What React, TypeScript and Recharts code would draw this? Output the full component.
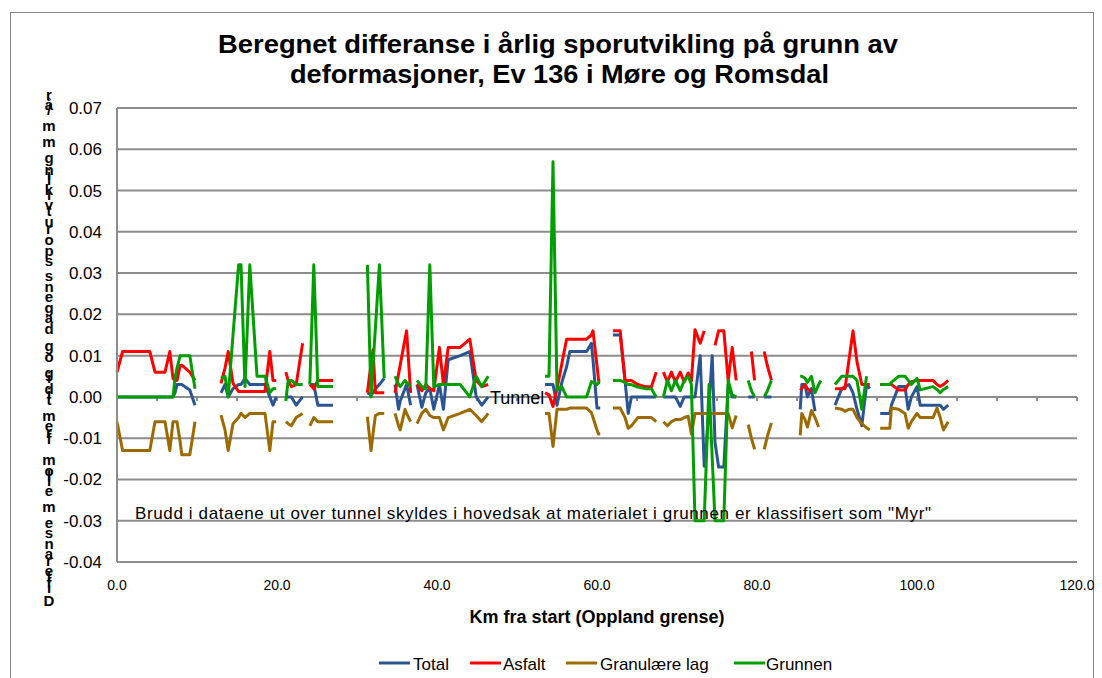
import { LineChart, Line, XAxis, YAxis, CartesianGrid, ReferenceLine } from 'recharts';

// km from start; each stretch ends with a row that only holds a km value (gap)
const km = [
  0, 0.7, 4.1, 4.75, 6.0, 6.6, 7.0, 7.25, 7.5, 7.9, 8.1, 9.1, 9.75, 11.5,
  13.0, 13.5, 13.9, 14.5, 15.2, 15.5, 16.0, 16.6, 17.5, 18.5, 19.1, 19.5, 19.9, 20.5,
  21.1, 21.4, 21.8, 22.4, 23.2, 23.65,
  24.1, 24.6, 25.1, 25.6, 27.0, 29.0,
  31.3, 31.75, 32.0, 32.3, 32.8, 33.4, 34.1,
  34.75, 35.2, 35.4, 36.0, 36.2, 36.7, 37.1,
  37.5, 38.1, 38.6, 39.1, 39.6, 40.3, 40.8, 41.4, 42.9, 44.1, 44.9, 45.6, 46.4, 50.0,
  53.5, 54.0, 54.5, 55.0, 55.6, 56.2, 56.6, 58.7, 59.3, 59.5, 60.0, 60.2, 60.4, 61.2,
  62.0, 62.9, 63.5, 63.9, 64.3, 65.1, 66.0, 66.8, 67.4, 67.85,
  68.3, 68.8, 69.3, 69.8, 70.4, 70.9, 71.4, 71.8, 72.25, 72.9, 73.4, 73.7, 74.0, 74.4, 74.75, 75.2, 75.85, 76.4, 76.9, 77.4, 78.3,
  78.9, 79.3, 79.7, 80.4,
  80.9, 81.3, 81.8, 83.5,
  85.4, 85.6, 86.0, 86.3, 86.8, 87.25, 87.7, 88.0, 89.0,
  89.75, 90.6, 91.0, 91.5, 92.0, 92.5, 93.1, 93.7, 94.1, 94.8,
  95.4, 96.6, 96.8, 97.7, 98.5, 98.9, 99.3, 100.0, 100.4, 102.0, 102.5, 102.9, 103.3, 103.9,
];

const total = [
  0, 0, 0, 0, 0, 0, 0, 0.001, 0.003, 0.003, 0.003, 0.0017, -0.002, null,
  0.001, 0.003, 0, 0.002, 0.003, 0.003, 0.0045, 0.003, 0.003, 0.003, 0, -0.002, 0, null,
  0, 0, 0, -0.002, 0, null,
  0.003, 0.003, -0.002, -0.002, -0.002, null,
  0.001, 0.0005, 0.001, 0.002, 0.003, 0.0045, null,
  0.003, -0.003, -0.001, 0.002, 0.003, -0.002, null,
  0.003, -0.0025, 0.001, 0.002, -0.003, 0.003, -0.003, 0.009, 0.010, 0.011, 0, -0.002, 0, null,
  0.003, 0.003, 0.003, -0.002, 0.0035, 0.0073, 0.011, 0.011, 0.013, 0.009, -0.0027, -0.0027, -0.0027, null,
  0.015, 0.015, 0.004, -0.004, 0, 0, 0, 0, 0, null,
  0, 0, 0, 0, -0.0023, 0, 0, 0, 0, 0.010, -0.0168, -0.0109, -0.0019, 0.010, -0.011, -0.017, -0.017, 0.003, 0, 0, null,
  0, 0, 0, null,
  0, 0, 0, null,
  -0.003, 0.003, 0.003, 0, 0.002, -0.0035, null, null, null,
  -0.002, 0.002, 0.0025, 0.003, 0.001, -0.003, -0.007, 0.003, 0.002, null,
  -0.004, -0.004, -0.002, 0.0025, 0.0025, -0.003, 0, 0.0025, -0.002, -0.002, -0.002, -0.002, -0.003, -0.002,
];

const asfalt = [
  0.006, 0.011, 0.011, 0.006, 0.006, 0.011, 0.0045, 0.004, 0.004, 0.0077, 0.0077, 0.006, 0.004, null,
  0.0033, 0.007, 0.011, 0.0033, 0.0013, 0.0013, 0.0013, 0.0013, 0.0013, 0.0013, 0.011, 0.004, 0.004, null,
  0.006, 0.004, 0.0025, 0.003, 0.013, null,
  0.003, 0.002, 0.004, 0.004, 0.004, null,
  0.001, 0.008, 0.0114, 0.001, 0.001, 0.001, null,
  0.001, 0.0056, 0.0077, 0.014, 0.016, 0.001, null,
  0.003, 0.0015, 0.003, 0.002, 0.0015, 0.012, 0.003, 0.012, 0.012, 0.014, 0.004, 0.0025, 0.003, null,
  0.001, 0.0005, -0.0023, 0.002, 0.008, 0.014, 0.014, 0.014, 0.015, 0.016, 0.0075, 0.004, 0.004, null,
  0.016, 0.016, 0.004, 0.004, 0.004, 0.003, 0.0025, 0.0024, 0.006, null,
  0.006, 0.0036, 0.006, 0.0036, 0.006, 0.0036, 0.0058, 0.0038, 0.0163, 0.013, 0.016, null, null, null, 0.0125, 0.016, 0.016, 0.004, 0.012, 0.004, null,
  null, 0.011, 0.004, null,
  0.011, 0.0075, 0.004, null,
  0.0016, 0.002, 0.003, 0.002, 0.0012, null, null, null, null,
  0.002, 0.002, 0.002, 0.009, 0.016, 0.0085, 0.003, 0.003, 0.003, null,
  0.003, 0.003, 0.003, 0.0017, 0.0017, 0.003, 0.0037, 0.004, 0.004, 0.004, 0.003, 0.0025, 0.003, 0.004,
];

const granulaere = [
  -0.006, -0.013, -0.013, -0.006, -0.006, -0.013, -0.006, -0.006, -0.006, -0.011, -0.014, -0.014, -0.006, null,
  -0.0044, -0.008, -0.013, -0.0065, -0.005, -0.004, -0.005, -0.004, -0.004, -0.004, -0.013, -0.006, -0.006, null,
  -0.006, -0.0065, -0.007, -0.005, -0.004, null,
  -0.007, -0.005, -0.006, -0.006, -0.006, null,
  -0.0048, -0.013, -0.009, -0.0045, -0.004, -0.004, null,
  -0.004, -0.007, -0.008, -0.003, -0.004, -0.006, null,
  -0.0065, -0.004, -0.003, -0.0045, -0.005, -0.005, -0.008, -0.005, -0.004, -0.003, -0.0045, -0.006, -0.004, null,
  -0.004, -0.004, -0.012, -0.003, -0.003, -0.003, -0.0027, -0.0027, -0.0038, -0.005, -0.008, -0.009, -0.009, null,
  -0.0027, -0.0027, -0.005, -0.0076, -0.007, -0.005, -0.005, -0.005, -0.006, null,
  -0.006, -0.007, -0.006, -0.0055, -0.0055, -0.005, -0.0047, -0.009, -0.004, -0.004, -0.004, -0.004, -0.004, -0.004, -0.004, -0.004, -0.004, -0.004, -0.0075, -0.0045, null,
  -0.0067, -0.010, -0.0127, null,
  -0.0127, -0.0095, -0.0063, null,
  -0.0093, -0.004, -0.0055, -0.0073, -0.0033, -0.005, -0.0073, null, null,
  -0.0027, -0.003, -0.0035, -0.003, -0.003, -0.005, -0.0065, -0.0075, -0.008, null,
  -0.0076, -0.0076, -0.0027, -0.003, -0.004, -0.0076, -0.006, -0.004, -0.005, -0.005, -0.0027, -0.005, -0.008, -0.006,
];

const grunnen = [
  0, 0, 0, 0, 0, 0, 0, 0.0045, 0.007, 0.010, 0.010, 0.010, 0.002, null,
  0.0045, 0.005, 0, 0.015, 0.032, 0.032, 0.0025, 0.032, 0.005, 0.005, 0.001, 0.002, 0.002, null,
  -0.001, 0.004, 0.004, 0.003, 0.003, null,
  0.003, 0.032, 0.0025, 0.0025, 0.0025, null,
  0.032, 0, 0.0076, 0.0168, 0.032, 0.0045, null,
  0.005, 0.003, 0.0025, 0.004, 0.0035, 0.0025, null,
  0.004, 0.0025, 0.002, 0.032, 0.0025, 0.003, 0.003, 0.003, 0.003, 0, 0.005, 0.0025, 0.005, null,
  0.005, 0.005, 0.057, 0.0017, 0.0025, 0, 0, 0, 0.0037, 0.0035, 0.003, 0.0035, 0.0035, null,
  0.004, 0.004, 0.0035, 0.003, 0.003, 0.0024, 0.002, 0.002, 0, null,
  0, 0.004, 0.0015, 0.004, 0.0015, 0.004, 0.005, 0.003, -0.030, -0.030, -0.030, -0.0135, 0.003, -0.0146, -0.030, -0.030, -0.030, 0.004, 0.0005, 0, null,
  0.004, 0.0015, 0, null,
  0, 0.0015, 0.004, null,
  0.005, 0.005, 0.0045, 0.0035, 0.005, 0.001, 0.003, 0.004, null,
  0.003, 0.005, 0.005, 0.005, 0.005, 0.004, -0.003, 0.005, null, null,
  0.003, 0.003, 0.0035, 0.005, 0.005, 0.004, 0.003, 0.0045, 0.0017, 0.0025, 0.0018, 0.001, 0.0018, 0.0025,
];

const xTicks = [0, 20, 40, 60, 80, 100, 120];
const yTicks = [-0.04, -0.03, -0.02, -0.01, 0, 0.01, 0.02, 0.03, 0.04, 0.05, 0.06, 0.07];
// small tick marks along the zero line
const zeroTicks = [5, 10, 15, 20, 25, 30, 35, 40, 45, 50, 55, 60, 65, 70, 75, 80, 85, 90, 95, 100, 105, 110, 115, 120];

const SERIES = [
  { key: 'total', name: 'Total', color: '#2B5592' },
  { key: 'asfalt', name: 'Asfalt', color: '#FF0000' },
  { key: 'granulaere', name: 'Granulære lag', color: '#9C6A00' },
  { key: 'grunnen', name: 'Grunnen', color: '#009E00' },
];

const Y_LABEL = 'Differanse mellom fremtidig og dagens sporutvikling mm/år';

// Arial bold advance widths (em) used to stack the axis title letters
const BOLD_W: Record<string, number> = {
  D: 0.722, i: 0.278, f: 0.333, e: 0.556, r: 0.389, a: 0.556, n: 0.611, s: 0.556, m: 0.889,
  l: 0.278, o: 0.611, t: 0.333, d: 0.611, g: 0.611, p: 0.611, u: 0.611, v: 0.556, k: 0.556,
  '/': 0.278, 'å': 0.556, ' ': 0.278,
};

const FONT = '"Liberation Sans", Arial, sans-serif';
const GRID = '#8c8c8c';

const rows = km.map((k, i) => ({
  km: k,
  total: total[i],
  asfalt: asfalt[i],
  granulaere: granulaere[i],
  grunnen: grunnen[i],
}));

function StackedYLabel() {
  let y = 606;
  return (
    <text fontFamily={FONT} fontWeight="bold" fontSize={15} textAnchor="middle" fill="#000">
      {Array.from(Y_LABEL).map((c, i) => {
        const el = <tspan key={i} x={49} y={y}>{c}</tspan>;
        y -= (BOLD_W[c] ?? 0.556) * 18.1;
        return el;
      })}
    </text>
  );
}

function Overlay() {
  const legendPos = [
    { line: 379, text: 413 },
    { line: 470, text: 503 },
    { line: 566, text: 600 },
    { line: 734, text: 766 },
  ];
  return (
    <svg width={1102} height={678} style={{ position: 'absolute', left: 0, top: 0, pointerEvents: 'none' }}>
      <text x={218} y={53} fontFamily={FONT} fontWeight="bold" fontSize={26} textLength={680} lengthAdjust="spacingAndGlyphs">
        Beregnet differanse i årlig sporutvikling på grunn av
      </text>
      <text x={290} y={83} fontFamily={FONT} fontWeight="bold" fontSize={26} textLength={539} lengthAdjust="spacingAndGlyphs">
        deformasjoner, Ev 136 i Møre og Romsdal
      </text>
      <StackedYLabel />
      <text x={597} y={623} textAnchor="middle" fontFamily={FONT} fontWeight="bold" fontSize={18}>
        Km fra start (Oppland grense)
      </text>
      <text x={490} y={404} fontFamily={FONT} fontSize={18}>Tunnel</text>
      <text x={135} y={519} fontFamily={FONT} fontSize={17} textLength={796} lengthAdjust="spacing">
        Brudd i dataene ut over tunnel skyldes i hovedsak at materialet i grunnen er klassifisert som "Myr"
      </text>
      {SERIES.map((s, i) => (
        <g key={s.key}>
          <line x1={legendPos[i].line} x2={legendPos[i].line + 31} y1={663} y2={663} stroke={s.color} strokeWidth={3} />
          <text x={legendPos[i].text} y={670} fontFamily={FONT} fontSize={17}>{s.name}</text>
        </g>
      ))}
    </svg>
  );
}

export default function App() {
  return (
    <div style={{ position: 'absolute', left: 0, top: 0, width: 1102, height: 678, background: '#fff', overflow: 'hidden' }}>
      <div style={{ position: 'absolute', left: 10, top: 12, width: 1082, height: 700, border: '1px solid #878787' }} />
      <LineChart
        width={1102}
        height={678}
        data={rows}
        margin={{ top: 108, right: 25, bottom: 86, left: 57 }}
        style={{ position: 'absolute', left: 0, top: 0 }}
      >
        <CartesianGrid horizontal vertical={false} stroke={GRID} strokeWidth={2} />
        <XAxis
          dataKey="km"
          type="number"
          domain={[0, 120]}
          ticks={xTicks}
          interval={0}
          height={30}
          axisLine={false}
          tickLine={false}
          tickSize={0}
          tickMargin={18}
          tickFormatter={(v: number) => v.toFixed(1)}
          tick={{ fontSize: 14, fontFamily: FONT, fill: '#000' }}
        />
        <YAxis
          type="number"
          domain={[-0.04, 0.07]}
          ticks={yTicks}
          interval={0}
          width={60}
          axisLine={{ stroke: GRID, strokeWidth: 2 }}
          tickLine={false}
          tickSize={0}
          tickMargin={15}
          tickFormatter={(v: number) => v.toFixed(2)}
          tick={{ fontSize: 17, fontFamily: FONT, fill: '#000' }}
        />
        {zeroTicks.map((t) => (
          <ReferenceLine key={t} segment={[{ x: t, y: 0 }, { x: t, y: -0.001 }]} stroke={GRID} strokeWidth={2} />
        ))}
        {SERIES.map((s) => (
          <Line
            key={s.key}
            type="linear"
            dataKey={s.key}
            name={s.name}
            stroke={s.color}
            strokeWidth={3}
            strokeLinejoin="round"
            dot={false}
            activeDot={false}
            connectNulls={false}
            isAnimationActive={false}
          />
        ))}
      </LineChart>
      <Overlay />
    </div>
  );
}
